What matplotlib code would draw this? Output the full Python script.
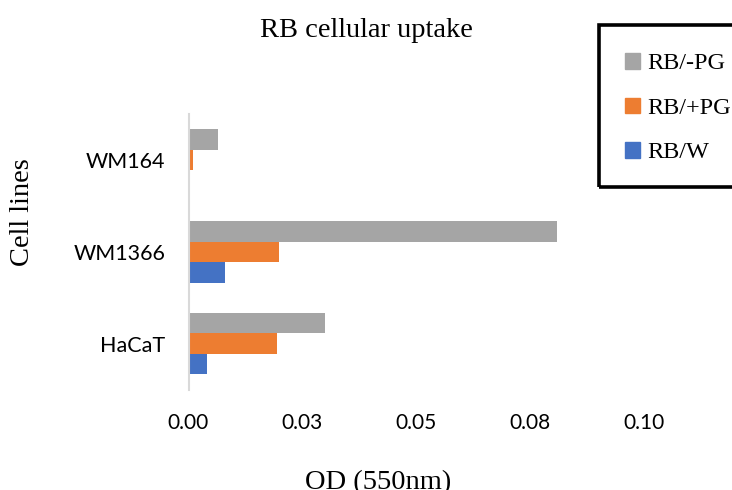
import numpy as np
import matplotlib.pyplot as plt
from matplotlib.patches import Patch, Rectangle

# data
bunecne_linie = ["HaCaT", "WM1366", "WM164"]
rb_w = [0.0041, 0.0081, 0.0004]
rb_plus_pg = [0.0195, 0.0199, 0.0009]
rb_minus_pg = [0.0299, 0.0808, 0.0065]
x_ticks = [0.0, 0.025, 0.05, 0.075, 0.1]
x_tick_labels = ["0.00", "0.03", "0.05", "0.08", "0.10"]

W, H = 732, 490
fig = plt.figure(figsize=(W / 100, H / 100), dpi=100)
ax = fig.add_axes([188.5 / W, 1 - 389.6 / H, (644 - 188.5) / W, (389.6 - 114) / H])

serif = "Liberation Serif"
sans = "Lato"

y = np.arange(len(bunecne_linie))
h = 0.223
ax.barh(y - h, rb_w, height=h, color="#4472C4", label="RB/W")
ax.barh(y, rb_plus_pg, height=h, color="#ED7D31", label="RB/+PG")
ax.barh(y + h, rb_minus_pg, height=h, color="#A5A5A5", label="RB/-PG")

ax.set_xlim(0, 0.1)
ax.set_ylim(-0.5, len(bunecne_linie) - 0.5)
ax.set_xticks(x_ticks)
ax.set_xticklabels(x_tick_labels, fontfamily=sans, fontsize=15)
ax.set_yticks(y)
ax.set_yticklabels(bunecne_linie, fontfamily=sans, fontsize=15.5)
ax.tick_params(axis="x", length=0, pad=16.5)
ax.tick_params(axis="y", length=0, pad=16.5)

for s in ["top", "right", "bottom"]:
    ax.spines[s].set_visible(False)
ax.spines["left"].set_color("#D9D9D9")
ax.spines["left"].set_linewidth(1.5)

# titulky
fig.text(366 / W, 1 - 37 / H, "RB cellular uptake", ha="center", va="baseline",
         fontfamily=serif, fontsize=20.5)
fig.text(23 / W, 1 - 212 / H, "Cell lines", ha="center", va="center", rotation=90,
         fontfamily=serif, fontsize=20.5)
fig.text(378 / W, 1 - 489 / H, "OD (550nm)", ha="center", va="baseline",
         fontfamily=serif, fontsize=20.5)

# legenda - ramecek presahuje pres pravy okraj
fig.patches.append(Rectangle((599 / W, 1 - 187 / H), 200 / W, 162 / H,
                             transform=fig.transFigure, fill=False,
                             edgecolor="black", linewidth=2.6))
handles = [Patch(color="#A5A5A5"), Patch(color="#ED7D31"), Patch(color="#4472C4")]
fig.legend(handles, ["RB/-PG", "RB/+PG", "RB/W"], loc="upper left",
           bbox_to_anchor=(625 / W, 1 - 53 / H), frameon=False, borderpad=0,
           borderaxespad=0, handlelength=0.62, handleheight=0.62,
           handletextpad=0.3, labelspacing=0.95,
           prop={"family": serif, "size": 17.5})

fig.savefig("out.png", dpi=100)
